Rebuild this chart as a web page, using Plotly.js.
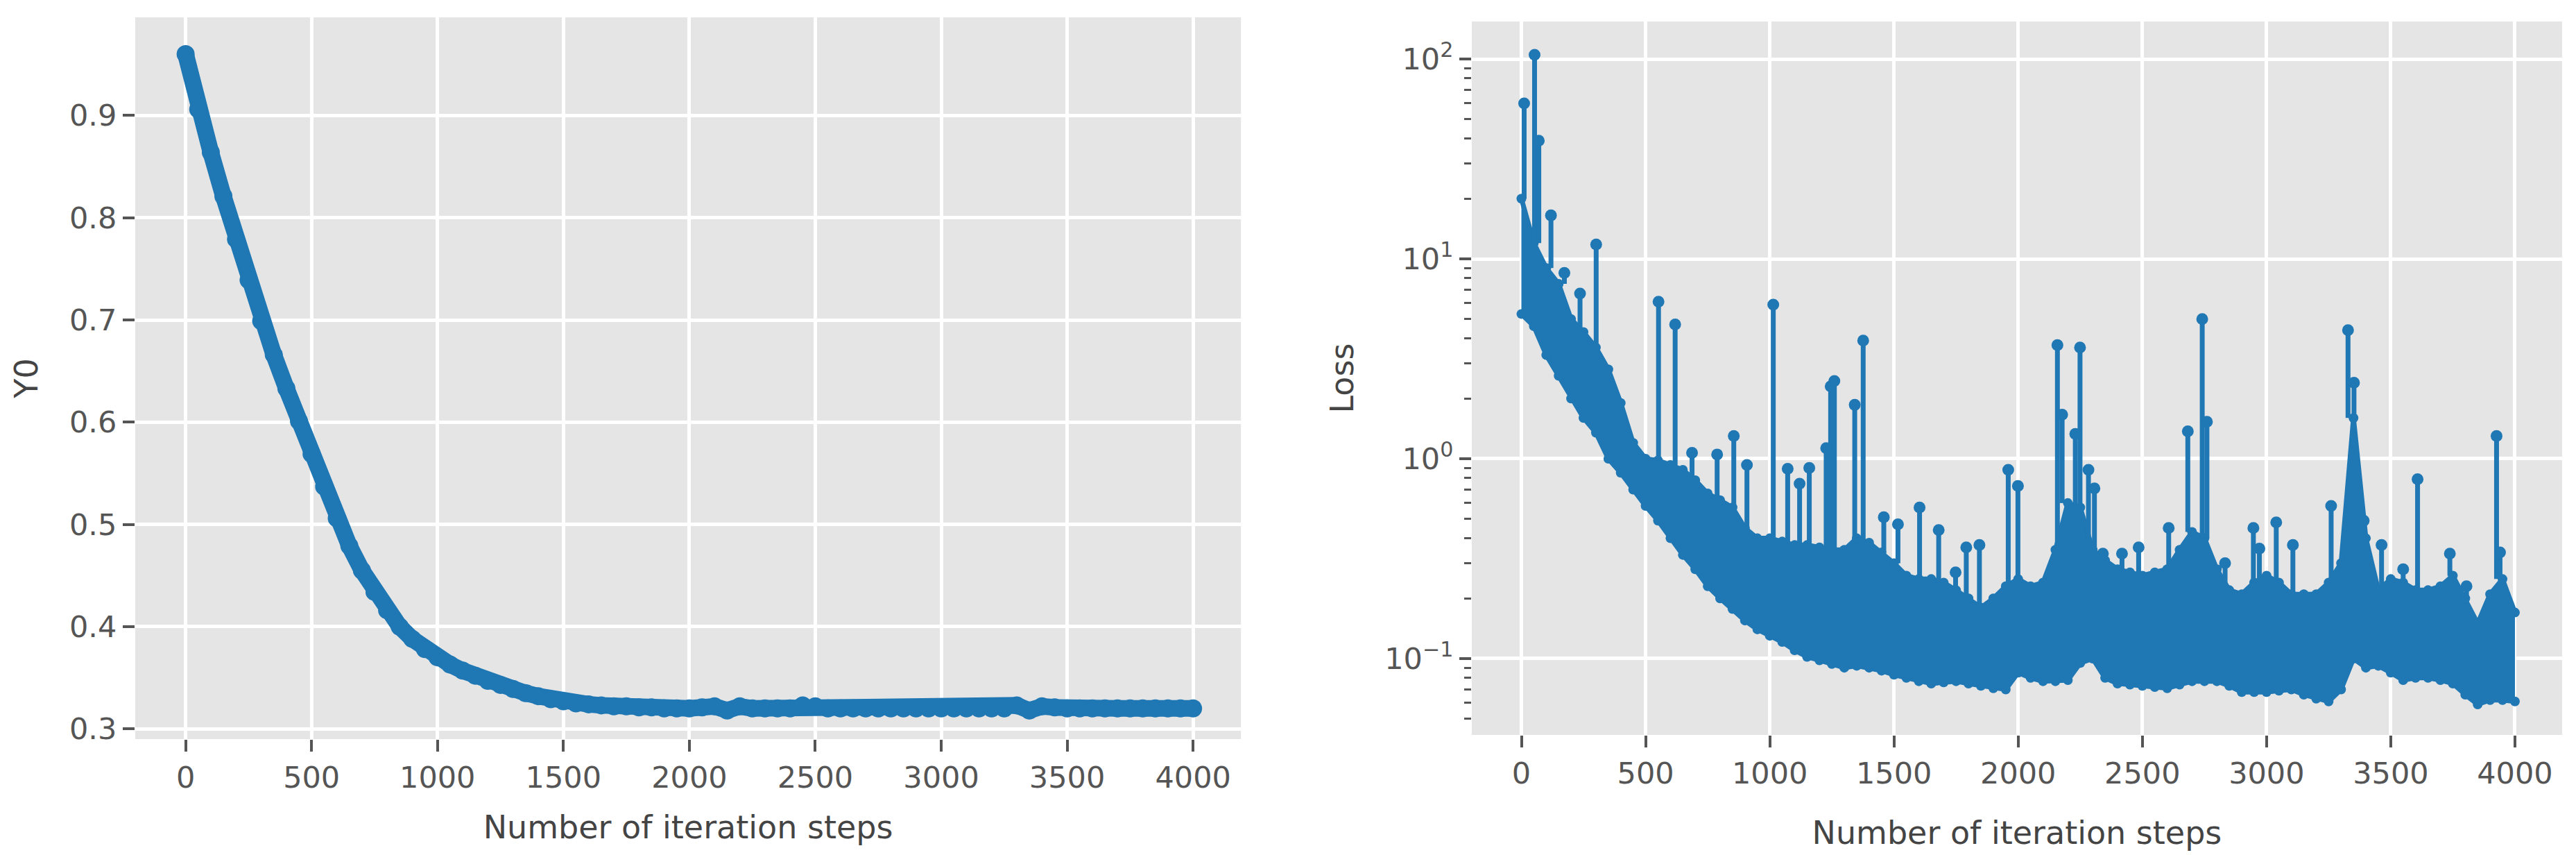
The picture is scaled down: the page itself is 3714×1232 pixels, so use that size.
<!DOCTYPE html>
<html>
<head>
<meta charset="utf-8">
<script src="https://cdn.plot.ly/plotly-3.0.1.min.js"></script>
<style>
html,body{margin:0;padding:0;background:#ffffff;}
#chart{width:3714px;height:1232px;}
</style>
</head>
<body>
<div id="chart"></div>
<script>
// ---- data ----
const steps = [0,50,100,150,200,250,300,350,400,450,
  500,550,600,650,700,750,800,850,900,950,
  1000,1050,1100,1150,1200,1250,1300,1350,1400,1450,
  1500,1550,1600,1650,1700,1750,1800,1850,1900,1950,
  2000,2050,2100,2150,2200,2250,2300,2350,2400,2450,
  2500,2550,2600,2650,2700,2750,2800,2850,2900,2950,
  3000,3050,3100,3150,3200,3250,3300,3350,3400,3450,
  3500,3550,3600,3650,3700,3750,3800,3850,3900,3950,
  4000];

const y0Values = [0.960,0.906,0.864,0.821,0.779,0.739,0.699,0.666,0.633,0.601,
  0.569,0.537,0.506,0.479,0.455,0.434,0.416,0.400,0.388,0.378,
  0.370,0.363,0.357,0.352,0.347,0.343,0.339,0.335,0.332,0.329,
  0.327,0.325,0.324,0.323,0.322,0.322,0.321,0.321,0.320,0.320,
  0.320,0.321,0.322,0.318,0.322,0.320,0.320,0.320,0.320,0.323,
  0.322,0.320,0.320,0.320,0.320,0.320,0.320,0.320,0.320,0.320,
  0.320,0.320,0.320,0.320,0.320,0.320,0.323,0.318,0.322,0.321,
  0.320,0.320,0.320,0.320,0.320,0.320,0.320,0.320,0.320,0.320,
  0.320];

// lower edge of the dense loss band
const lossLow = [5.3,4.6,3.3,2.6,2.0,1.6,1.35,1.0,0.85,0.70,
  0.58,0.49,0.40,0.33,0.28,0.23,0.20,0.177,0.155,0.14,
  0.13,0.121,0.11,0.102,0.098,0.094,0.090,0.092,0.090,0.087,
  0.083,0.080,0.077,0.075,0.076,0.077,0.075,0.073,0.071,0.070,
  0.085,0.080,0.077,0.077,0.078,0.095,0.100,0.080,0.075,0.074,
  0.073,0.072,0.071,0.074,0.077,0.077,0.077,0.073,0.068,0.068,
  0.068,0.069,0.070,0.066,0.063,0.061,0.070,0.100,0.090,0.092,
  0.085,0.078,0.080,0.080,0.078,0.075,0.066,0.059,0.062,0.062,
  0.061];

// upper edge of the dense loss band
const lossHigh = [20,12,9,7.5,5,4.3,3.6,2.8,1.9,1.2,
  1.0,0.98,0.93,0.88,0.78,0.67,0.62,0.57,0.45,0.40,
  0.40,0.385,0.37,0.37,0.36,0.35,0.35,0.40,0.38,0.34,
  0.30,0.26,0.25,0.25,0.24,0.22,0.20,0.18,0.20,0.23,
  0.25,0.23,0.24,0.35,0.60,0.57,0.35,0.31,0.28,0.27,
  0.26,0.27,0.28,0.35,0.43,0.40,0.28,0.22,0.21,0.24,
  0.26,0.24,0.21,0.21,0.21,0.24,0.30,1.6,0.40,0.22,
  0.25,0.24,0.22,0.22,0.23,0.26,0.20,0.15,0.21,0.25,
  0.17];

// isolated loss spikes
const spikeSteps = [11,53,70,119,173,236,301,330,552,619,
  687,788,855,908,1014,1072,1120,1159,1227,1245,
  1260,1342,1376,1459,1516,1603,1680,1748,1791,1844,
  1960,1999,2158,2177,2230,2249,2283,2307,2341,2418,
  2485,2606,2683,2741,2760,2833,2947,2971,3039,3106,
  3260,3328,3352,3391,3463,3550,3608,3738,3805,3926,
  3940];
const spikeValues = [60,105,39,16.5,8.5,6.7,11.8,2.7,6.1,4.7,
  1.07,1.05,1.30,0.93,5.9,0.89,0.75,0.90,1.13,2.3,
  2.45,1.86,3.9,0.51,0.47,0.57,0.44,0.27,0.36,0.37,
  0.88,0.73,3.7,1.66,1.33,3.6,0.88,0.71,0.335,0.335,
  0.36,0.45,1.37,5.0,1.53,0.30,0.45,0.355,0.48,0.37,
  0.58,4.4,2.4,0.49,0.37,0.28,0.79,0.335,0.23,1.30,
  0.34];

const xTickVals = [0,500,1000,1500,2000,2500,3000,3500,4000];
const y0TickVals = [0.3,0.4,0.5,0.6,0.7,0.8,0.9];
const lossTickVals = [0.1,1,10,100];
const lossTickText = ['10<sup>\u22121</sup>','10<sup>0</sup>','10<sup>1</sup>','10<sup>2</sup>'];
const lossMinorVals = [0.05,0.06,0.07,0.08,0.09,0.2,0.3,0.4,0.5,0.6,0.7,0.8,0.9,
  2,3,4,5,6,7,8,9,20,30,40,50,60,70,80,90];

// ---- styling ----
const FONT = 'DejaVu Sans';
const BLUE = '#1f77b4';
const tickFont = {family: FONT, size: 43, color: '#555555'};
const titleFont = {family: FONT, size: 46, color: '#444444'};

// spike segments from band top to peak
const spikeX = [], spikeY = [];
spikeSteps.forEach((s, i) => {
  const base = lossHigh[Math.round(s / 50)];
  spikeX.push(s, s, null);
  spikeY.push(base, spikeValues[i], null);
});

const traces = [
  {x: steps, y: y0Values, type: 'scatter', mode: 'lines+markers',
   line: {color: BLUE, width: 24}, marker: {color: BLUE, size: 26},
   xaxis: 'x', yaxis: 'y', hoverinfo: 'skip'},
  {x: steps, y: lossLow, type: 'scatter', mode: 'lines+markers',
   line: {color: BLUE, width: 7}, marker: {color: BLUE, size: 14},
   xaxis: 'x2', yaxis: 'y2', hoverinfo: 'skip'},
  {x: steps, y: lossHigh, type: 'scatter', mode: 'lines+markers',
   fill: 'tonexty', fillcolor: BLUE,
   line: {color: BLUE, width: 7}, marker: {color: BLUE, size: 14},
   xaxis: 'x2', yaxis: 'y2', hoverinfo: 'skip'},
  {x: spikeX, y: spikeY, type: 'scatter', mode: 'lines',
   line: {color: BLUE, width: 7}, connectgaps: false,
   xaxis: 'x2', yaxis: 'y2', hoverinfo: 'skip'},
  {x: spikeSteps, y: spikeValues, type: 'scatter', mode: 'markers',
   marker: {color: BLUE, size: 17},
   xaxis: 'x2', yaxis: 'y2', hoverinfo: 'skip'}
];

const axisBase = {
  showgrid: true, gridcolor: '#ffffff', gridwidth: 5,
  zeroline: false, showline: false,
  ticks: 'outside', ticklen: 17, tickwidth: 4, tickcolor: '#555555',
  tickfont: tickFont, automargin: false
};

const layout = {
  width: 3714, height: 1232,
  margin: {l: 195, r: 20, t: 25, b: 167},
  paper_bgcolor: '#ffffff', plot_bgcolor: '#E5E5E5',
  showlegend: false, hovermode: false,
  font: {family: FONT, color: '#555555'},
  xaxis: Object.assign({}, axisBase, {
    domain: [0, 0.4556], range: [-200, 4190], anchor: 'y',
    tickmode: 'array', tickvals: xTickVals,
    title: {text: 'Number of iteration steps', font: titleFont, standoff: 32}
  }),
  yaxis: Object.assign({}, axisBase, {
    domain: [0, 1], range: [0.29, 0.996], anchor: 'x',
    tickmode: 'array', tickvals: y0TickVals,
    title: {text: 'Y0', font: titleFont, standoff: 30}
  }),
  xaxis2: Object.assign({}, axisBase, {
    domain: [0.5507, 1], range: [-200, 4190], anchor: 'y2',
    tickmode: 'array', tickvals: xTickVals,
    title: {text: 'Number of iteration steps', font: titleFont, standoff: 46}
  }),
  yaxis2: Object.assign({}, axisBase, {
    type: 'log', domain: [0.0058, 0.9942], range: [-1.382, 2.1875], anchor: 'x2',
    tickmode: 'array', tickvals: lossTickVals, ticktext: lossTickText,
    minor: {tickmode: 'array', tickvals: lossMinorVals, ticks: 'outside',
            ticklen: 10, tickwidth: 3, tickcolor: '#555555', showgrid: false},
    title: {text: 'Loss', font: titleFont, standoff: 30}
  })
};

Plotly.newPlot('chart', traces, layout, {staticPlot: true, displayModeBar: false});
</script>
</body>
</html>
